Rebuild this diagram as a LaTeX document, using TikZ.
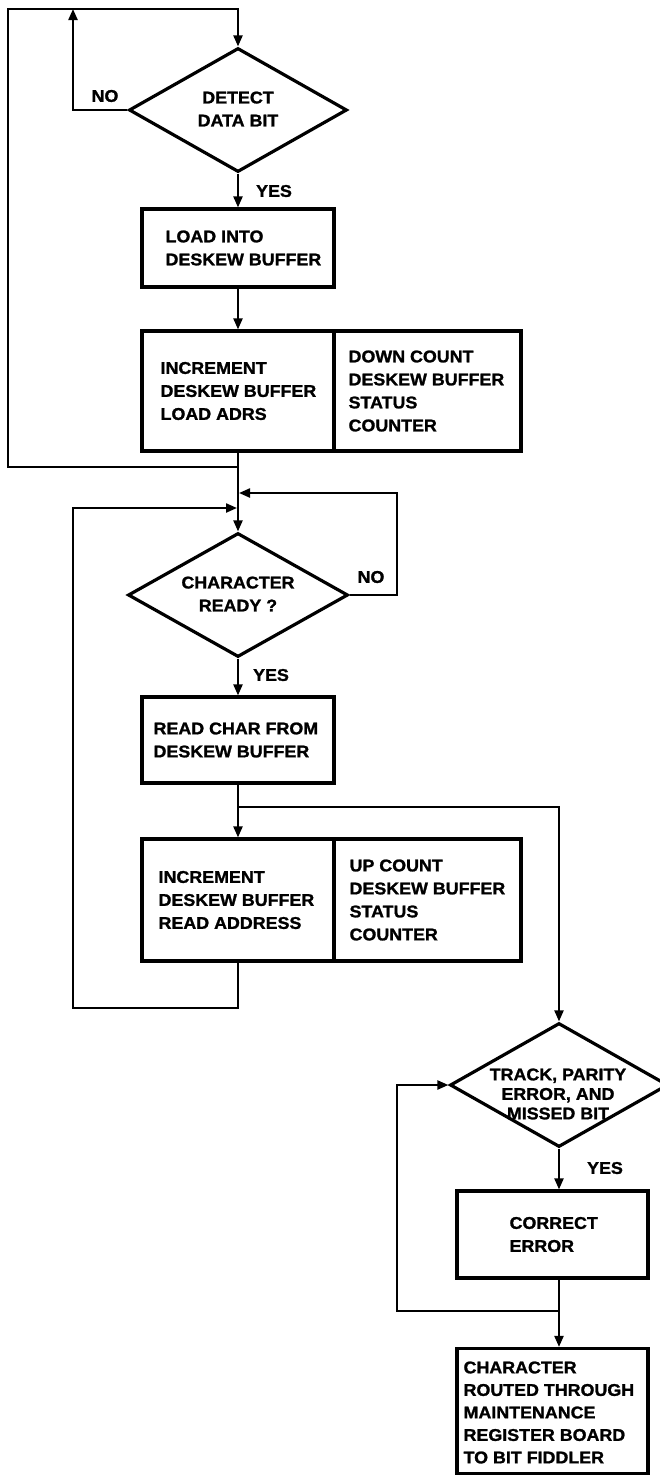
\documentclass[tikz,border=0pt]{standalone}
\usepackage{fontspec}
\setmainfont{Liberation Sans}[FakeStretch=1.05,FakeBold=1.3]
\usetikzlibrary{arrows.meta,shapes.geometric}
\begin{document}
\begin{tikzpicture}[x=1pt,y=-1pt,
  every node/.style={font=\bfseries\fontsize{17}{23}\selectfont, text=black},
  boxnode/.style={draw, line width=3.2pt, inner sep=0pt},
  btext/.style={anchor=west, align=left, inner sep=0pt},
  dia/.style={draw, diamond, line width=3.2pt, minimum width=218pt, minimum height=124pt, inner sep=0pt},
  dtext/.style={align=center, inner sep=0pt},
  lbl/.style={inner sep=0pt},
  conn/.style={line width=2.2pt},
  arr/.style={conn, -{Triangle[length=11pt,width=9pt]}}]
\useasboundingbox (0,0) rectangle (660,1476);

% shapes
\node[dia] (d1) at (238,110) {};
\node[boxnode, minimum width=192pt, minimum height=78pt] (b1) at (238,248) {};
\node[boxnode, minimum width=192pt, minimum height=120pt] (b2l) at (238,391) {};
\node[boxnode, minimum width=187pt, minimum height=120pt] (b2r) at (427.5,391) {};
\node[dia, minimum width=220pt] (d2) at (238,595) {};
\node[boxnode, minimum width=192pt, minimum height=86pt] (b3) at (238,740) {};
\node[boxnode, minimum width=192pt, minimum height=122pt] (b4l) at (238,900) {};
\node[boxnode, minimum width=187pt, minimum height=122pt] (b4r) at (427.5,900) {};
\node[dia] (d3) at (559,1085) {};
\node[boxnode, minimum width=191pt, minimum height=87pt] (ce) at (552.5,1234.5) {};
\node[boxnode, minimum width=191pt, minimum height=125pt] (fb) at (552.5,1411) {};

% texts
\node[dtext] (d1t) at (238,109) {DETECT\\DATA BIT};
\node[btext] (b1t) at ([xshift=25pt]b1.west) {LOAD INTO\\DESKEW BUFFER};
\node[btext] (b2lt) at ([xshift=20pt]b2l.west) {INCREMENT\\DESKEW BUFFER\\LOAD ADRS};
\node[btext] (b2rt) at ([xshift=16pt]b2r.west) {DOWN COUNT\\DESKEW BUFFER\\STATUS\\COUNTER};
\node[dtext] (d2t) at (238,594) {CHARACTER\\READY ?};
\node[btext] (b3t) at ([xshift=13pt]b3.west) {READ CHAR FROM\\DESKEW BUFFER};
\node[btext] (b4lt) at ([xshift=18pt]b4l.west) {INCREMENT\\DESKEW BUFFER\\READ ADDRESS};
\node[btext] (b4rt) at ([xshift=17pt]b4r.west) {UP COUNT\\DESKEW BUFFER\\STATUS\\COUNTER};
\node[dtext, font=\bfseries\fontsize{17}{19.5}\selectfont] (d3t) at (558,1094) {TRACK, PARITY\\ERROR, AND\\MISSED BIT};
\node[btext] (cet) at ([xshift=54pt]ce.west) {CORRECT\\ERROR};
\node[btext, font=\bfseries\fontsize{17}{22.5}\selectfont] (fbt) at ([xshift=8pt,yshift=-1.5pt]fb.west) {CHARACTER\\ROUTED THROUGH\\MAINTENANCE\\REGISTER BOARD\\TO BIT FIDDLER};

% labels
\node[lbl] (no1) at (105,96) {NO};
\node[lbl] (yes1) at (274,191) {YES};
\node[lbl] (no2) at (371,577) {NO};
\node[lbl] (yes2) at (271,675) {YES};
\node[lbl] (yes3) at (605,1168) {YES};

% coordinates
\coordinate (j1) at (238,467);
\coordinate (ol1) at (8,467);
\coordinate (ol2) at (8,9);
\coordinate (ol3) at (238,9);
\coordinate (n1) at (73,110);
\coordinate (n1t) at (73,9);
\coordinate (r1) at (397,595);
\coordinate (r2) at (397,493);
\coordinate (m1) at (239,493);
\coordinate (j2) at (238,807);
\coordinate (r3) at (559,807);
\coordinate (l1) at (238,1008);
\coordinate (l2) at (73,1008);
\coordinate (l3) at (73,508);
\coordinate (m2) at (237,508);
\coordinate (j3) at (559,1311);
\coordinate (l4) at (397,1311);
\coordinate (l5) at (397,1085);

% connectors
\draw[arr] (j1) -- (ol1) -- (ol2) -- (ol3) -- (d1.north);
\draw[arr] (d1.west) -- (n1) -- (n1t);
\draw[arr] (d1.south) -- (b1.north);
\draw[arr] (b1.south) -- (b2l.north);
\draw[arr] (b2l.south) -- (d2.north);
\draw[arr] (d2.east) -- (r1) -- (r2) -- (m1);
\draw[arr] (d2.south) -- (b3.north);
\draw[arr] (b3.south) -- (b4l.north);
\draw[arr] (j2) -- (r3) -- (d3.north);
\draw[arr] (b4l.south) -- (l1) -- (l2) -- (l3) -- (m2);
\draw[arr] (d3.south) -- (d3.south |- ce.north);
\draw[arr] (d3.south |- ce.south) -- (d3.south |- fb.north);
\draw[arr] (j3) -- (l4) -- (l5) -- (d3.west);
\end{tikzpicture}
\end{document}
